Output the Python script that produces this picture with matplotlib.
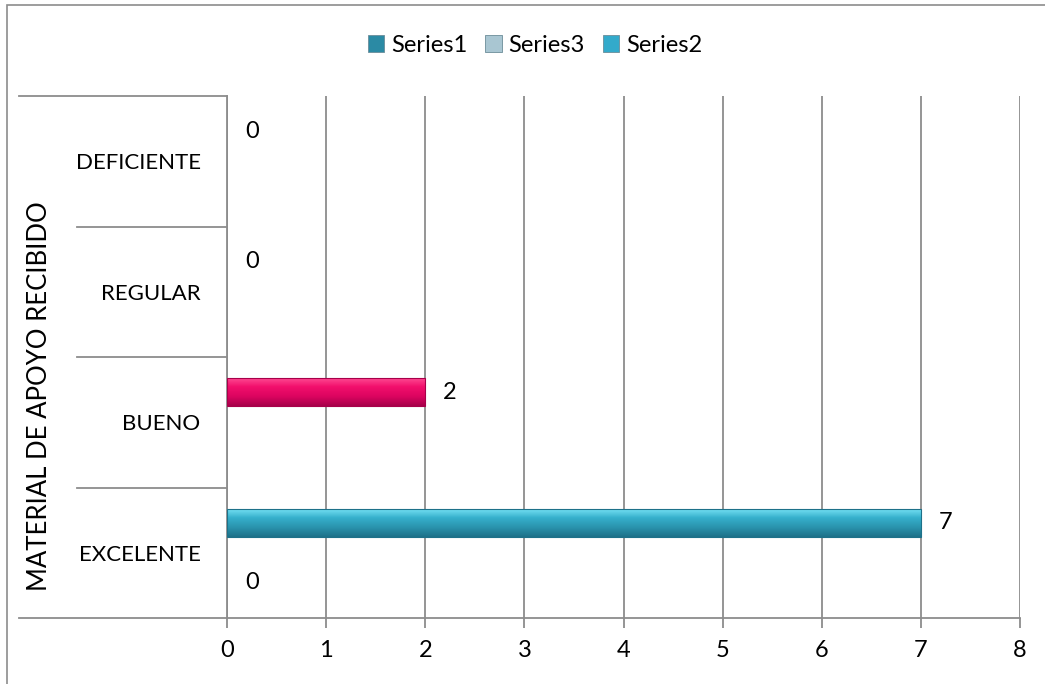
import numpy as np
import matplotlib.pyplot as plt
import matplotlib.patches as mpatches
from matplotlib.colors import LinearSegmentedColormap
import matplotlib.transforms as mtransforms

# data start here
categories = ['EXCELENTE', 'BUENO', 'REGULAR', 'DEFICIENTE']
series_names = ['Series1', 'Series3', 'Series2']
series1 = [0, None, None, None]
series3 = [None, None, None, None]
series2 = [7, 2, 0, 0]
axis_title = 'MATERIAL DE APOYO RECIBIDO'
# data end here

plt.rcParams['font.family'] = ['Lato', 'DejaVu Sans']
fs = 17

fig = plt.figure(figsize=(10.45, 6.84), dpi=100)
ax = fig.add_axes([227/1045, 1-618/684, 793/1045, 522/684])

# outer chart border (only left and top fall inside the picture)
fig.patches.append(mpatches.Rectangle((7/1045, -0.2), 1.2, 1.2-5/684,
                   transform=fig.transFigure, fill=False, lw=1.2, ec='#8c8c8c'))

grid_c = '#8c8c8c'
ax.set_xticks(range(9))
ax.grid(axis='x', color=grid_c, lw=1.3, zorder=0)
ax.set_axisbelow(True)
for s in ['top', 'right']:
    ax.spines[s].set_visible(False)
for s in ['left', 'bottom']:
    ax.spines[s].set_color(grid_c)
    ax.spines[s].set_linewidth(1.3)
ax.tick_params(axis='x', length=7, width=1.3, color=grid_c, labelsize=fs, pad=9)
ax.set_yticks(np.arange(len(categories)))
ax.set_yticklabels(categories, fontsize=16)
ax.tick_params(axis='y', length=0, pad=19)

ypos = np.arange(len(categories))
h = 0.215
offsets = [-0.23, 0.0, 0.23]

cyan = ['#7ae4f7', '#36b0cc', '#2a93ad', '#1d7189']
pink = ['#ff4f95', '#f20f6c', '#dc0560', '#a8004a']
point_colors = [cyan, pink, cyan, cyan]


def gradient_bar(rect, cols):
    cmap = LinearSegmentedColormap.from_list('g', cols)
    x0, y0 = rect.get_x(), rect.get_y()
    w, hh = rect.get_width(), rect.get_height()
    if w <= 0:
        return
    grad = np.linspace(0, 1, 64).reshape(-1, 1)
    im = ax.imshow(grad, cmap=cmap, aspect='auto', origin='upper',
                   extent=[x0, x0+w, y0, y0+hh], zorder=3)
    im.set_clip_path(rect)
    ax.add_patch(mpatches.Rectangle((x0, y0), w, hh, fill=False,
                 ec=cols[-1], lw=0.8, zorder=4))


all_series = [series1, series3, series2]
for k, (vals, off) in enumerate(zip(all_series, offsets)):
    for i, v in enumerate(vals):
        if v is None:
            continue
        bars = ax.barh(ypos[i]+off, v, height=h, color='none', zorder=3)
        rect = bars.patches[0]
        cols = point_colors[i] if k == 2 else cyan
        gradient_bar(rect, cols)
        ax.annotate(str(v), (v, ypos[i]+off), xytext=(13, 0),
                    textcoords='offset points', va='center', ha='left',
                    fontsize=fs, zorder=5)
ax.set_xlim(0, 8)
ax.set_ylim(-0.5, len(categories)-0.5)

# category separators on the left
trans = mtransforms.blended_transform_factory(ax.transAxes, ax.transData)
bounds = np.arange(len(categories)+1) - 0.5
for j, b in enumerate(bounds):
    left = -0.262 if j in (0, len(bounds)-1) else -0.189
    ax.plot([left, 0], [b, b], transform=trans, color=grid_c, lw=1.3,
            clip_on=False)

fig.text(40/1045, 1-396/684, axis_title, rotation=90, ha='center',
         va='center', fontsize=18.5)

leg_cols = ['#2b8aa4', '#a9c6d2', '#33aacb']
handles = [mpatches.Patch(facecolor=c, edgecolor='#6b8d99', lw=0.6, label=n)
           for c, n in zip(leg_cols, series_names)]
fig.legend(handles=handles, loc='center', bbox_to_anchor=(535/1045, 1-45/684),
           ncol=3, frameon=False, fontsize=fs, handlelength=0.7,
           handleheight=0.7, handletextpad=0.3, columnspacing=0.75)

fig.savefig('out.png', dpi=100)
